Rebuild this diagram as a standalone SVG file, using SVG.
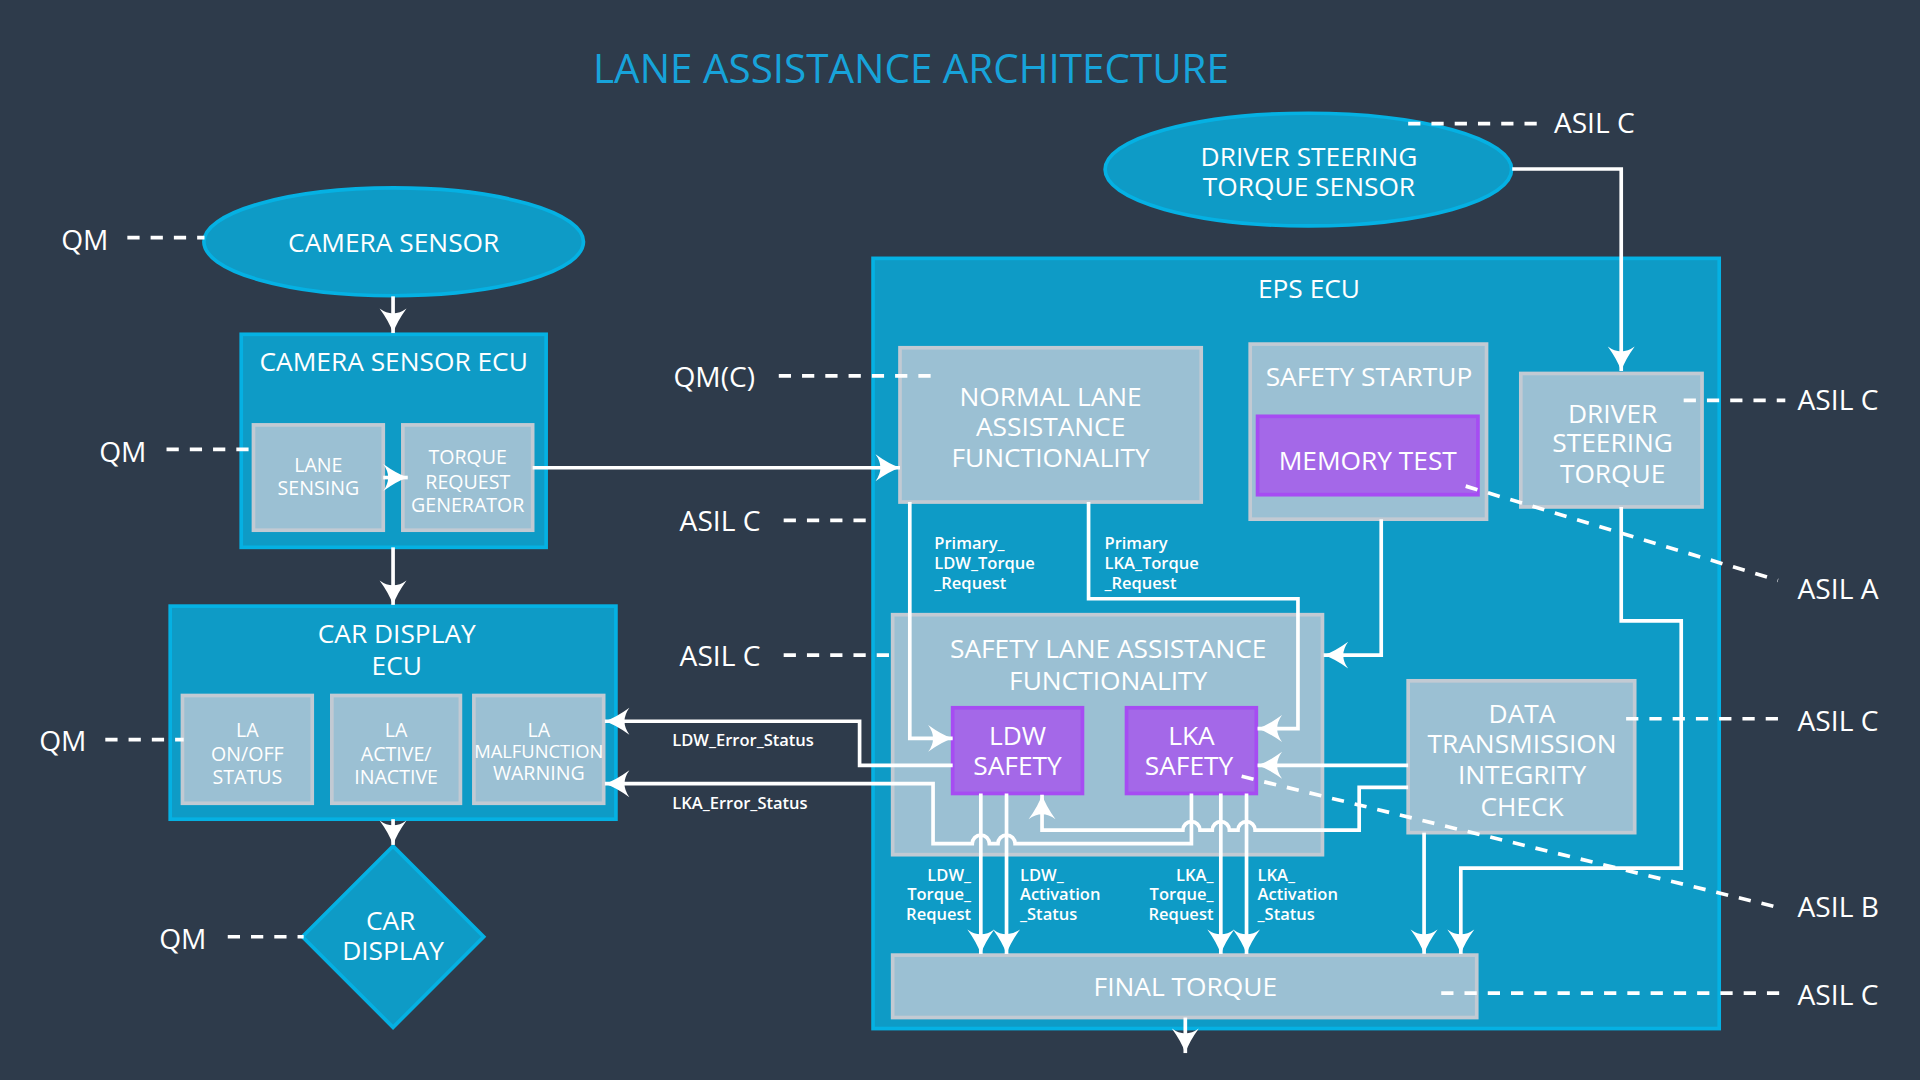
<svg xmlns="http://www.w3.org/2000/svg" width="1920" height="1080" viewBox="0 0 1920 1080">
<style>
text{font-family:"Open Sans","Liberation Sans",sans-serif;fill:#ffffff;dominant-baseline:central}
.t{text-anchor:middle}
.big{font-size:21.5px}
.sm{font-size:16px}
.lab{font-size:23px}
.tiny{font-size:13.5px;font-weight:600}
.title{font-size:33px;fill:#17a3da;text-anchor:middle}
.cont{fill:#0e9bc6;stroke:#05b1e3;stroke-width:3}
.box{fill:#9bc0d3;stroke:#c2cad3;stroke-width:3}
.pur{fill:#a468e8;stroke:#a64cf2;stroke-width:3}
.ln{fill:none;stroke:#ffffff;stroke-width:3}
.arr{marker-end:url(#ah)}
.dash{fill:none;stroke:#ffffff;stroke-width:3;stroke-dasharray:10 9}
</style>
<defs>
<marker id="ah" viewBox="-22 -12 24 24" markerWidth="24" markerHeight="24" refX="0" refY="0" orient="auto" markerUnits="userSpaceOnUse">
<path d="M0,0 Q-9,-3 -20,-11 Q-12,0 -20,11 Q-9,3 0,0 Z" fill="#ffffff"/>
</marker>
</defs>
<rect x="0" y="0" width="1920" height="1080" fill="#2e3b4b"/>
<g transform="scale(1.2244898)">
<text class="title" x="744" y="55">LANE ASSISTANCE ARCHITECTURE</text>

<g id="camera-sensor">
<ellipse class="cont" cx="321.5" cy="197.5" rx="155" ry="44"/>
<text class="t big" x="321.5" y="197.5">CAMERA SENSOR</text>
</g>
<g id="driver-steering-torque-sensor">
<ellipse class="cont" cx="1068.5" cy="138.5" rx="166" ry="46"/>
<text class="t big" x="1069" y="127">DRIVER STEERING</text>
<text class="t big" x="1069" y="152">TORQUE SENSOR</text>
</g>

<g id="camera-sensor-ecu">
<rect class="cont" x="197" y="273" width="249" height="174"/>
<text class="t big" x="321.5" y="295">CAMERA SENSOR ECU</text>
</g>
<g id="lane-sensing">
<rect class="box" x="207" y="347" width="106" height="86"/>
<text class="t sm" x="260" y="379">LANE</text>
<text class="t sm" x="260" y="398">SENSING</text>
</g>
<g id="torque-request-generator">
<rect class="box" x="329" y="347" width="106" height="86"/>
<text class="t sm" x="382" y="373">TORQUE</text>
<text class="t sm" x="382" y="393">REQUEST</text>
<text class="t sm" x="382" y="412">GENERATOR</text>
</g>

<g id="car-display-ecu">
<rect class="cont" x="139" y="495" width="364" height="174"/>
<text class="t big" x="324" y="517">CAR DISPLAY</text>
<text class="t big" x="324" y="543">ECU</text>
</g>
<g id="la-onoff-status">
<rect class="box" x="149" y="568" width="106" height="88"/>
<text class="t sm" x="202" y="596">LA</text>
<text class="t sm" x="202" y="615">ON/OFF</text>
<text class="t sm" x="202" y="634">STATUS</text>
</g>
<g id="la-active-inactive">
<rect class="box" x="271" y="568" width="105" height="88"/>
<text class="t sm" x="323.5" y="596">LA</text>
<text class="t sm" x="323.5" y="615">ACTIVE/</text>
<text class="t sm" x="323.5" y="634">INACTIVE</text>
</g>
<g id="la-malfunction-warning">
<rect class="box" x="387" y="568" width="106" height="88"/>
<text class="t sm" x="440" y="596">LA</text>
<text class="t sm" x="440" y="613" style="font-size:15px">MALFUNCTION</text>
<text class="t sm" x="440" y="631">WARNING</text>
</g>

<g id="car-display">
<polygon class="cont" points="321,691 395,765 321,839 247,765"/>
<text class="t big" x="319" y="751">CAR</text>
<text class="t big" x="321" y="776">DISPLAY</text>
</g>

<g id="eps-ecu">
<rect class="cont" x="713" y="211" width="691" height="629"/>
<text class="t big" x="1069" y="235">EPS ECU</text>
</g>
<g id="normal-lane-assistance">
<rect class="box" x="735" y="284" width="246" height="126"/>
<text class="t big" x="858" y="323">NORMAL LANE</text>
<text class="t big" x="858" y="348">ASSISTANCE</text>
<text class="t big" x="858" y="373">FUNCTIONALITY</text>
</g>
<g id="safety-startup">
<rect class="box" x="1021" y="281" width="193" height="143"/>
<text class="t big" x="1118" y="307">SAFETY STARTUP</text>
</g>
<g id="memory-test">
<rect class="pur" x="1027" y="340" width="180" height="64"/>
<text class="t big" x="1117" y="376">MEMORY TEST</text>
</g>
<g id="driver-steering-torque">
<rect class="box" x="1242" y="305" width="148" height="109"/>
<text class="t big" x="1317" y="337">DRIVER</text>
<text class="t big" x="1317" y="361">STEERING</text>
<text class="t big" x="1317" y="386">TORQUE</text>
</g>
<g id="safety-lane-assistance">
<rect class="box" x="729" y="502" width="351" height="196"/>
<text class="t big" x="905" y="529">SAFETY LANE ASSISTANCE</text>
<text class="t big" x="905" y="555">FUNCTIONALITY</text>
</g>
<g id="ldw-safety">
<rect class="pur" x="778" y="578" width="106" height="70"/>
<text class="t big" x="831" y="600">LDW</text>
<text class="t big" x="831" y="625">SAFETY</text>
</g>
<g id="lka-safety">
<rect class="pur" x="920" y="578" width="106" height="70"/>
<text class="t big" x="973" y="600">LKA</text>
<text class="t big" x="971" y="625">SAFETY</text>
</g>
<g id="data-transmission-integrity-check">
<rect class="box" x="1150" y="556" width="185" height="124"/>
<text class="t big" x="1243" y="582">DATA</text>
<text class="t big" x="1243" y="607">TRANSMISSION</text>
<text class="t big" x="1243" y="632">INTEGRITY</text>
<text class="t big" x="1243" y="658">CHECK</text>
</g>
<g id="final-torque">
<rect class="box" x="729" y="780" width="477" height="51"/>
<text class="t big" x="968" y="805">FINAL TORQUE</text>
</g>

<g id="connectors">
<path class="ln arr" d="M321,242 V272"/>
<path class="ln arr" d="M313,390 H333"/>
<path class="ln arr" d="M321,447 V494"/>
<path class="ln arr" d="M321,669 V690"/>
<path class="ln arr" d="M435,382 H735"/>
<path class="ln arr" d="M1235,138 H1324 V303"/>
<path class="ln arr" d="M743,410 V603 H778"/>
<path class="ln arr" d="M889,410 V489 H1060 V595 H1027"/>
<path class="ln arr" d="M1128,424 V535 H1081"/>
<path class="ln arr" d="M778,625 H702 V589 H494"/>
<path class="ln arr" d="M973,648 V689 H829 A7,7 0 0 0 815,689 H808 A7,7 0 0 0 794,689 H762 V640 H494"/>
<path class="ln arr" d="M1150,625 H1027"/>
<path class="ln arr" d="M1150,643 H1110 V678 H1025 A7,7 0 0 0 1011,678 H1004 A7,7 0 0 0 990,678 H980 A7,7 0 0 0 966,678 H851 V649"/>
<path class="ln arr" d="M801,648 V779"/>
<path class="ln arr" d="M822,648 V779"/>
<path class="ln arr" d="M997,648 V779"/>
<path class="ln arr" d="M1018,648 V779"/>
<path class="ln arr" d="M1163,680 V779"/>
<path class="ln arr" d="M1324,414 V507 H1373 V709 H1193 V779"/>
<path class="ln arr" d="M968,831 V860"/>
</g>

<g id="connector-labels">
<text class="tiny" x="549" y="604">LDW_Error_Status</text>
<text class="tiny" x="549" y="655">LKA_Error_Status</text>
<text class="tiny" x="763" y="443">Primary_</text>
<text class="tiny" x="763" y="459">LDW_Torque</text>
<text class="tiny" x="763" y="476">_Request</text>
<text class="tiny" x="902" y="443">Primary</text>
<text class="tiny" x="902" y="459">LKA_Torque</text>
<text class="tiny" x="902" y="476">_Request</text>
<text class="tiny" x="793" y="714" text-anchor="end">LDW_</text>
<text class="tiny" x="793" y="730" text-anchor="end">Torque_</text>
<text class="tiny" x="793" y="746" text-anchor="end">Request</text>
<text class="tiny" x="833" y="714">LDW_</text>
<text class="tiny" x="833" y="730">Activation</text>
<text class="tiny" x="833" y="746">_Status</text>
<text class="tiny" x="991" y="714" text-anchor="end">LKA_</text>
<text class="tiny" x="991" y="730" text-anchor="end">Torque_</text>
<text class="tiny" x="991" y="746" text-anchor="end">Request</text>
<text class="tiny" x="1027" y="714">LKA_</text>
<text class="tiny" x="1027" y="730">Activation</text>
<text class="tiny" x="1027" y="746">_Status</text>
</g>

<g id="asil-annotations">
<path class="dash" d="M104,194 H167"/>
<path class="dash" d="M136,367 H203"/>
<path class="dash" d="M86,604 H150"/>
<path class="dash" d="M186,765 H248"/>
<path class="dash" d="M636,307 H766"/>
<path class="dash" d="M640,425 H713"/>
<path class="dash" d="M640,535 H730"/>
<path class="dash" d="M1150,101 H1258"/>
<path class="dash" d="M1375,327 H1458"/>
<path class="dash" d="M1197,397 L1452,474"/>
<path class="dash" d="M1328,587 H1458"/>
<path class="dash" d="M1014,634 L1452,741"/>
<path class="dash" d="M1177,811 H1458"/>
<text class="lab" x="50" y="195">QM</text>
<text class="lab" x="81" y="368">QM</text>
<text class="lab" x="32" y="604">QM</text>
<text class="lab" x="130" y="766">QM</text>
<text class="lab" x="550" y="307">QM(C)</text>
<text class="lab" x="555" y="425">ASIL C</text>
<text class="lab" x="555" y="535">ASIL C</text>
<text class="lab" x="1269" y="100">ASIL C</text>
<text class="lab" x="1468" y="326">ASIL C</text>
<text class="lab" x="1468" y="480">ASIL A</text>
<text class="lab" x="1468" y="588">ASIL C</text>
<text class="lab" x="1468" y="740">ASIL B</text>
<text class="lab" x="1468" y="812">ASIL C</text>
</g>
</g>
</svg>
